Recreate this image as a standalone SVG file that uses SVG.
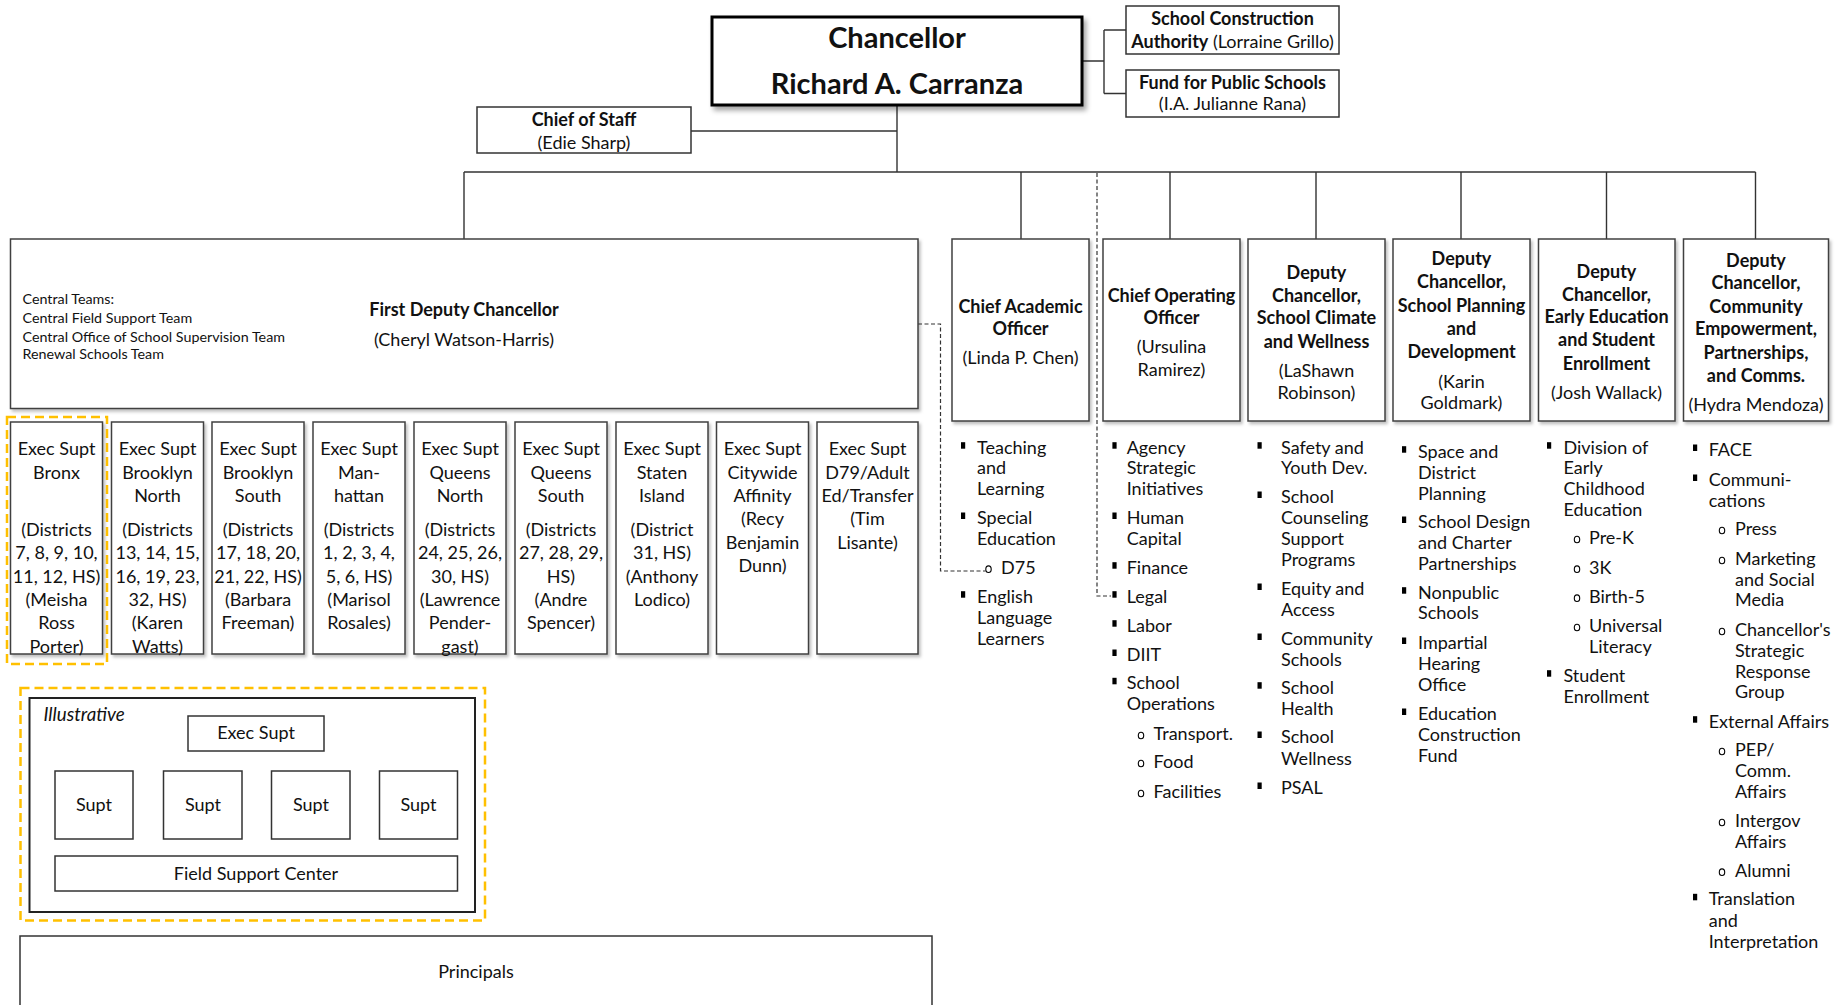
<svg xmlns="http://www.w3.org/2000/svg" width="1848" height="1005" viewBox="0 0 1848 1005">
<defs>
<style>
text { font-family: Lato, "Liberation Sans", sans-serif; fill: #111; font-size: 18px; }
.c { text-anchor: middle; }
.b { font-weight: 700; }
.i { font-style: italic; font-size: 18.7px; }
.sm { font-size: 14.3px; }
.ttl { font-size: 29px; font-weight: 700; }
.box { fill: #fff; stroke: #404040; stroke-width: 1.5; filter: url(#sh); }
.chan { fill: #fff; stroke: #000; stroke-width: 3; filter: url(#sh2); }
.plain { fill: #fff; stroke: #333; stroke-width: 1.5; }
.frame { fill: #fff; stroke: #222; stroke-width: 2; }
.ln { stroke: #333; stroke-width: 1.4; fill: none; }
.dash { stroke: #333; stroke-width: 1.2; fill: none; stroke-dasharray: 4 2.5; }
.gold { fill: none; stroke: #FFC000; stroke-width: 2.5; stroke-dasharray: 9 5; }
.sq { fill: #000; }
.ci { fill: none; stroke: #000; stroke-width: 1.1; }
</style>
<filter id="sh" x="-10%" y="-10%" width="130%" height="130%">
<feDropShadow dx="2" dy="2.5" stdDeviation="1.5" flood-color="#000" flood-opacity="0.25"/>
</filter>
<filter id="sh2" x="-10%" y="-10%" width="130%" height="140%">
<feDropShadow dx="3" dy="4" stdDeviation="2.5" flood-color="#000" flood-opacity="0.35"/>
</filter>
</defs>

<!-- connectors -->
<g id="connectors">
<path class="ln" d="M897 105 V172 M691 131 H897 M464 172 H1755.5 M464 172 V239 M1021 172 V239 M1170 172 V239 M1316 172 V239 M1461 172 V239 M1606.5 172 V239 M1755.5 172 V239"/>
<path class="ln" d="M1082 61 H1104 M1104 30 V93.5 M1104 30 H1126 M1104 93.5 H1126"/>
<path class="dash" d="M918 324 H940.5 V571 H985.5"/>
<path class="dash" d="M1097 173 V596 H1111"/>
<path class="ln" d="M256 751 V856 M94 761 H418.5 M94 761 V771 M203 761 V771 M311 761 V771 M418.5 761 V771"/>
</g>

<!-- top level -->
<g id="chancellor">
<rect class="chan" x="712" y="17" width="370" height="88"/>
<text class="c ttl" x="897" y="48">Chancellor</text>
<text class="c ttl" x="897" y="94">Richard A. Carranza</text>
</g>
<g id="sca">
<rect class="plain" x="1126" y="6" width="213" height="48"/>
<text class="c b" x="1232.5" y="25">School Construction</text>
<text class="c" x="1232.5" y="48"><tspan class="b">Authority</tspan> (Lorraine Grillo)</text>
</g>
<g id="fps">
<rect class="plain" x="1126" y="70" width="213" height="47"/>
<text class="c b" x="1232.5" y="89">Fund for Public Schools</text>
<text class="c" x="1232.5" y="110">(I.A. Julianne Rana)</text>
</g>
<g id="chief-of-staff">
<rect class="plain" x="477" y="107" width="214" height="46"/>
<text class="c b" x="584" y="126">Chief of Staff</text>
<text class="c" x="584" y="149">(Edie Sharp)</text>
</g>

<!-- first deputy chancellor -->
<g id="first-deputy">
<rect class="box" x="10.5" y="239" width="907.5" height="169.5"/>
<text class="sm" x="22.5" y="303.5">Central Teams:</text>
<text class="sm" x="22.5" y="322.5">Central Field Support Team</text>
<text class="sm" x="22.5" y="341.5">Central Office of School Supervision Team</text>
<text class="sm" x="22.5" y="358.5">Renewal Schools Team</text>
<text class="c b" x="464" y="316">First Deputy Chancellor</text>
<text class="c" x="464" y="346">(Cheryl Watson-Harris)</text>
</g>

<!-- executive superintendents -->
<g id="es-bronx">
<rect class="box" x="10.5" y="422" width="92" height="232"/>
<text class="c" x="56.5" y="455">Exec Supt</text>
<text class="c" x="56.5" y="478.7">Bronx</text>
<text class="c" x="56.5" y="536">(Districts</text>
<text class="c" x="56.5" y="559.3">7, 8, 9, 10,</text>
<text class="c" x="56.5" y="582.7">11, 12, HS)</text>
<text class="c" x="56.5" y="606">(Meisha</text>
<text class="c" x="56.5" y="629.3">Ross</text>
<text class="c" x="56.5" y="652.7">Porter)</text>
</g>
<g id="es-brooklyn-north">
<rect class="box" x="111.5" y="422" width="92" height="232"/>
<text class="c" x="157.5" y="455">Exec Supt</text>
<text class="c" x="157.5" y="478.7">Brooklyn</text>
<text class="c" x="157.5" y="502">North</text>
<text class="c" x="157.5" y="536">(Districts</text>
<text class="c" x="157.5" y="559.3">13, 14, 15,</text>
<text class="c" x="157.5" y="582.7">16, 19, 23,</text>
<text class="c" x="157.5" y="606">32, HS)</text>
<text class="c" x="157.5" y="629.3">(Karen</text>
<text class="c" x="157.5" y="652.7">Watts)</text>
</g>
<g id="es-brooklyn-south">
<rect class="box" x="212" y="422" width="92" height="232"/>
<text class="c" x="258" y="455">Exec Supt</text>
<text class="c" x="258" y="478.7">Brooklyn</text>
<text class="c" x="258" y="502">South</text>
<text class="c" x="258" y="536">(Districts</text>
<text class="c" x="258" y="559.3">17, 18, 20,</text>
<text class="c" x="258" y="582.7">21, 22, HS)</text>
<text class="c" x="258" y="606">(Barbara</text>
<text class="c" x="258" y="629.3">Freeman)</text>
</g>
<g id="es-manhattan">
<rect class="box" x="313" y="422" width="92" height="232"/>
<text class="c" x="359" y="455">Exec Supt</text>
<text class="c" x="359" y="478.7">Man-</text>
<text class="c" x="359" y="502">hattan</text>
<text class="c" x="359" y="536">(Districts</text>
<text class="c" x="359" y="559.3">1, 2, 3, 4,</text>
<text class="c" x="359" y="582.7">5, 6, HS)</text>
<text class="c" x="359" y="606">(Marisol</text>
<text class="c" x="359" y="629.3">Rosales)</text>
</g>
<g id="es-queens-north">
<rect class="box" x="414" y="422" width="92" height="232"/>
<text class="c" x="460" y="455">Exec Supt</text>
<text class="c" x="460" y="478.7">Queens</text>
<text class="c" x="460" y="502">North</text>
<text class="c" x="460" y="536">(Districts</text>
<text class="c" x="460" y="559.3">24, 25, 26,</text>
<text class="c" x="460" y="582.7">30, HS)</text>
<text class="c" x="460" y="606">(Lawrence</text>
<text class="c" x="460" y="629.3">Pender-</text>
<text class="c" x="460" y="652.7">gast)</text>
</g>
<g id="es-queens-south">
<rect class="box" x="515" y="422" width="92" height="232"/>
<text class="c" x="561" y="455">Exec Supt</text>
<text class="c" x="561" y="478.7">Queens</text>
<text class="c" x="561" y="502">South</text>
<text class="c" x="561" y="536">(Districts</text>
<text class="c" x="561" y="559.3">27, 28, 29,</text>
<text class="c" x="561" y="582.7">HS)</text>
<text class="c" x="561" y="606">(Andre</text>
<text class="c" x="561" y="629.3">Spencer)</text>
</g>
<g id="es-staten-island">
<rect class="box" x="616" y="422" width="92" height="232"/>
<text class="c" x="662" y="455">Exec Supt</text>
<text class="c" x="662" y="478.7">Staten</text>
<text class="c" x="662" y="502">Island</text>
<text class="c" x="662" y="536">(District</text>
<text class="c" x="662" y="559.3">31, HS)</text>
<text class="c" x="662" y="582.7">(Anthony</text>
<text class="c" x="662" y="606">Lodico)</text>
</g>
<g id="es-citywide-affinity">
<rect class="box" x="716.5" y="422" width="92" height="232"/>
<text class="c" x="762.5" y="455">Exec Supt</text>
<text class="c" x="762.5" y="478.7">Citywide</text>
<text class="c" x="762.5" y="502">Affinity</text>
<text class="c" x="762.5" y="525.3">(Recy</text>
<text class="c" x="762.5" y="548.7">Benjamin</text>
<text class="c" x="762.5" y="572">Dunn)</text>
</g>
<g id="es-d79">
<rect class="box" x="817" y="422" width="101" height="232"/>
<text class="c" x="867.5" y="455">Exec Supt</text>
<text class="c" x="867.5" y="478.7">D79/Adult</text>
<text class="c" x="867.5" y="502">Ed/Transfer</text>
<text class="c" x="867.5" y="525.3">(Tim</text>
<text class="c" x="867.5" y="548.7">Lisante)</text>
</g>
<rect class="gold" x="7" y="417" width="100" height="247"/>

<!-- senior leadership -->
<g id="chief-academic-officer">
<rect class="box" x="952" y="239" width="137" height="182"/>
<text class="c b" x="1020.5" y="312.7">Chief Academic</text>
<text class="c b" x="1020.5" y="335">Officer</text>
<text class="c" x="1020.5" y="364">(Linda P. Chen)</text>
</g>
<g id="chief-operating-officer">
<rect class="box" x="1103" y="239" width="137" height="182"/>
<text class="c b" x="1171.5" y="301.7">Chief Operating</text>
<text class="c b" x="1171.5" y="324">Officer</text>
<text class="c" x="1171.5" y="352.7">(Ursulina</text>
<text class="c" x="1171.5" y="376">Ramirez)</text>
</g>
<g id="dc-school-climate">
<rect class="box" x="1248" y="239" width="137" height="182"/>
<text class="c b" x="1316.5" y="278.7">Deputy</text>
<text class="c b" x="1316.5" y="301.7">Chancellor,</text>
<text class="c b" x="1316.5" y="324">School Climate</text>
<text class="c b" x="1316.5" y="347.7">and Wellness</text>
<text class="c" x="1316.5" y="376.7">(LaShawn</text>
<text class="c" x="1316.5" y="398.7">Robinson)</text>
</g>
<g id="dc-school-planning">
<rect class="box" x="1393" y="239" width="137" height="182"/>
<text class="c b" x="1461.5" y="265">Deputy</text>
<text class="c b" x="1461.5" y="287.7">Chancellor,</text>
<text class="c b" x="1461.5" y="312">School Planning</text>
<text class="c b" x="1461.5" y="335">and</text>
<text class="c b" x="1461.5" y="358">Development</text>
<text class="c" x="1461.5" y="387.7">(Karin</text>
<text class="c" x="1461.5" y="409">Goldmark)</text>
</g>
<g id="dc-early-education">
<rect class="box" x="1538.5" y="239" width="136.5" height="182"/>
<text class="c b" x="1606.5" y="277.7">Deputy</text>
<text class="c b" x="1606.5" y="301">Chancellor,</text>
<text class="c b" x="1606.5" y="323">Early Education</text>
<text class="c b" x="1606.5" y="346">and Student</text>
<text class="c b" x="1606.5" y="370">Enrollment</text>
<text class="c" x="1606.5" y="399">(Josh Wallack)</text>
</g>
<g id="dc-community">
<rect class="box" x="1683.5" y="239" width="145" height="182"/>
<text class="c b" x="1756" y="266.7">Deputy</text>
<text class="c b" x="1756" y="289">Chancellor,</text>
<text class="c b" x="1756" y="312.7">Community</text>
<text class="c b" x="1756" y="335">Empowerment,</text>
<text class="c b" x="1756" y="358.7">Partnerships,</text>
<text class="c b" x="1756" y="381.7">and Comms.</text>
<text class="c" x="1756" y="411">(Hydra Mendoza)</text>
</g>

<!-- portfolio lists -->
<g id="list-academic">
<rect class="sq" x="961" y="442.2" width="4.2" height="6.5"/>
<text x="977" y="453.7">Teaching</text>
<text x="977" y="474">and</text>
<text x="977" y="495">Learning</text>
<rect class="sq" x="961" y="512.5" width="4.2" height="6.5"/>
<text x="977" y="524">Special</text>
<text x="977" y="544.6">Education</text>
<ellipse class="ci" cx="988.5" cy="569.2" rx="2.7" ry="3.3"/>
<text x="1001" y="573.7">D75</text>
<rect class="sq" x="961" y="591.2" width="4.2" height="6.5"/>
<text x="977" y="602.7">English</text>
<text x="977" y="623.7">Language</text>
<text x="977" y="644.5">Learners</text>
</g>
<g id="list-operations">
<rect class="sq" x="1112.4" y="442.2" width="4.2" height="6.5"/>
<text x="1126.7" y="453.7">Agency</text>
<text x="1126.7" y="474">Strategic</text>
<text x="1126.7" y="495">Initiatives</text>
<rect class="sq" x="1112.4" y="512.5" width="4.2" height="6.5"/>
<text x="1126.7" y="524">Human</text>
<text x="1126.7" y="544.6">Capital</text>
<rect class="sq" x="1112.4" y="562.2" width="4.2" height="6.5"/>
<text x="1126.7" y="573.7">Finance</text>
<rect class="sq" x="1112.4" y="591.2" width="4.2" height="6.5"/>
<text x="1126.7" y="602.7">Legal</text>
<rect class="sq" x="1112.4" y="620.2" width="4.2" height="6.5"/>
<text x="1126.7" y="631.7">Labor</text>
<rect class="sq" x="1112.4" y="649.5" width="4.2" height="6.5"/>
<text x="1126.7" y="661">DIIT</text>
<rect class="sq" x="1112.4" y="677.8" width="4.2" height="6.5"/>
<text x="1126.7" y="689.3">School</text>
<text x="1126.7" y="710">Operations</text>
<ellipse class="ci" cx="1141" cy="735.5" rx="2.7" ry="3.3"/>
<text x="1153.6" y="740">Transport.</text>
<ellipse class="ci" cx="1141" cy="763.5" rx="2.7" ry="3.3"/>
<text x="1153.6" y="768">Food</text>
<ellipse class="ci" cx="1141" cy="793.5" rx="2.7" ry="3.3"/>
<text x="1153.6" y="798">Facilities</text>
</g>
<g id="list-climate">
<rect class="sq" x="1257.5" y="442.2" width="4.2" height="6.5"/>
<text x="1281" y="453.7">Safety and</text>
<text x="1281" y="474">Youth Dev.</text>
<rect class="sq" x="1257.5" y="491.5" width="4.2" height="6.5"/>
<text x="1281" y="503">School</text>
<text x="1281" y="524">Counseling</text>
<text x="1281" y="545">Support</text>
<text x="1281" y="566">Programs</text>
<rect class="sq" x="1257.5" y="583.5" width="4.2" height="6.5"/>
<text x="1281" y="595">Equity and</text>
<text x="1281" y="615.5">Access</text>
<rect class="sq" x="1257.5" y="633.5" width="4.2" height="6.5"/>
<text x="1281" y="645">Community</text>
<text x="1281" y="666">Schools</text>
<rect class="sq" x="1257.5" y="682.2" width="4.2" height="6.5"/>
<text x="1281" y="693.7">School</text>
<text x="1281" y="715">Health</text>
<rect class="sq" x="1257.5" y="731.5" width="4.2" height="6.5"/>
<text x="1281" y="743">School</text>
<text x="1281" y="765">Wellness</text>
<rect class="sq" x="1257.5" y="782.5" width="4.2" height="6.5"/>
<text x="1281" y="794">PSAL</text>
</g>
<g id="list-planning">
<rect class="sq" x="1402" y="446.2" width="4.2" height="6.5"/>
<text x="1418" y="457.7">Space and</text>
<text x="1418" y="478.7">District</text>
<text x="1418" y="500">Planning</text>
<rect class="sq" x="1402" y="516.5" width="4.2" height="6.5"/>
<text x="1418" y="528">School Design</text>
<text x="1418" y="549">and Charter</text>
<text x="1418" y="570">Partnerships</text>
<rect class="sq" x="1402" y="587.2" width="4.2" height="6.5"/>
<text x="1418" y="598.7">Nonpublic</text>
<text x="1418" y="619">Schools</text>
<rect class="sq" x="1402" y="637.5" width="4.2" height="6.5"/>
<text x="1418" y="649">Impartial</text>
<text x="1418" y="670">Hearing</text>
<text x="1418" y="691">Office</text>
<rect class="sq" x="1402" y="708.5" width="4.2" height="6.5"/>
<text x="1418" y="720">Education</text>
<text x="1418" y="740.5">Construction</text>
<text x="1418" y="761.7">Fund</text>
</g>
<g id="list-early-education">
<rect class="sq" x="1547" y="442.2" width="4.2" height="6.5"/>
<text x="1563.5" y="453.7">Division of</text>
<text x="1563.5" y="474">Early</text>
<text x="1563.5" y="495">Childhood</text>
<text x="1563.5" y="516">Education</text>
<ellipse class="ci" cx="1577" cy="539.5" rx="2.7" ry="3.3"/>
<text x="1589" y="544">Pre-K</text>
<ellipse class="ci" cx="1577" cy="569.2" rx="2.7" ry="3.3"/>
<text x="1589" y="573.7">3K</text>
<ellipse class="ci" cx="1577" cy="598.2" rx="2.7" ry="3.3"/>
<text x="1589" y="602.7">Birth-5</text>
<ellipse class="ci" cx="1577" cy="627.5" rx="2.7" ry="3.3"/>
<text x="1589" y="632">Universal</text>
<text x="1589" y="653.3">Literacy</text>
<rect class="sq" x="1547" y="670.2" width="4.2" height="6.5"/>
<text x="1563.5" y="681.7">Student</text>
<text x="1563.5" y="702.7">Enrollment</text>
</g>
<g id="list-community">
<rect class="sq" x="1693" y="444.5" width="4.2" height="6.5"/>
<text x="1708.7" y="456">FACE</text>
<rect class="sq" x="1693" y="474.5" width="4.2" height="6.5"/>
<text x="1708.7" y="486">Communi-</text>
<text x="1708.7" y="507">cations</text>
<ellipse class="ci" cx="1722" cy="530.5" rx="2.7" ry="3.3"/>
<text x="1735" y="535">Press</text>
<ellipse class="ci" cx="1722" cy="560.5" rx="2.7" ry="3.3"/>
<text x="1735" y="565">Marketing</text>
<text x="1735" y="586">and Social</text>
<text x="1735" y="606">Media</text>
<ellipse class="ci" cx="1722" cy="631.5" rx="2.7" ry="3.3"/>
<text x="1735" y="636">Chancellor's</text>
<text x="1735" y="656.7">Strategic</text>
<text x="1735" y="677.7">Response</text>
<text x="1735" y="698.3">Group</text>
<rect class="sq" x="1693" y="716.2" width="4.2" height="6.5"/>
<text x="1708.7" y="727.7">External Affairs</text>
<ellipse class="ci" cx="1722" cy="751.5" rx="2.7" ry="3.3"/>
<text x="1735" y="756">PEP/</text>
<text x="1735" y="777">Comm.</text>
<text x="1735" y="798.3">Affairs</text>
<ellipse class="ci" cx="1722" cy="822.5" rx="2.7" ry="3.3"/>
<text x="1735" y="827">Intergov</text>
<text x="1735" y="847.7">Affairs</text>
<ellipse class="ci" cx="1722" cy="872.2" rx="2.7" ry="3.3"/>
<text x="1735" y="876.7">Alumni</text>
<rect class="sq" x="1693" y="893.8" width="4.2" height="6.5"/>
<text x="1708.7" y="905.3">Translation</text>
<text x="1708.7" y="926.7">and</text>
<text x="1708.7" y="948.3">Interpretation</text>
</g>

<!-- illustrative field structure -->
<rect class="gold" x="20.5" y="688" width="464.5" height="232.5"/>
<g id="illustrative">
<rect class="frame" x="29.5" y="698" width="445.5" height="214"/>
<text class="i" x="43.5" y="721">Illustrative</text>
</g>
<g id="ill-exec-supt">
<rect class="plain" x="188" y="716" width="136" height="35"/>
<text class="c" x="256" y="739">Exec Supt</text>
</g>
<g id="ill-supt-1">
<rect class="plain" x="55" y="771" width="78" height="68"/>
<text class="c" x="94" y="811">Supt</text>
</g>
<g id="ill-supt-2">
<rect class="plain" x="163.5" y="771" width="78.5" height="68"/>
<text class="c" x="203" y="811">Supt</text>
</g>
<g id="ill-supt-3">
<rect class="plain" x="271.5" y="771" width="78.5" height="68"/>
<text class="c" x="311" y="811">Supt</text>
</g>
<g id="ill-supt-4">
<rect class="plain" x="379.5" y="771" width="78" height="68"/>
<text class="c" x="418.5" y="811">Supt</text>
</g>
<g id="ill-field-support">
<rect class="plain" x="55" y="856" width="402.5" height="35"/>
<text class="c" x="256" y="879.5">Field Support Center</text>
</g>

<!-- principals -->
<g id="principals">
<rect class="plain" x="20" y="936" width="912" height="100"/>
<text class="c" x="476" y="978">Principals</text>
</g>
</svg>
